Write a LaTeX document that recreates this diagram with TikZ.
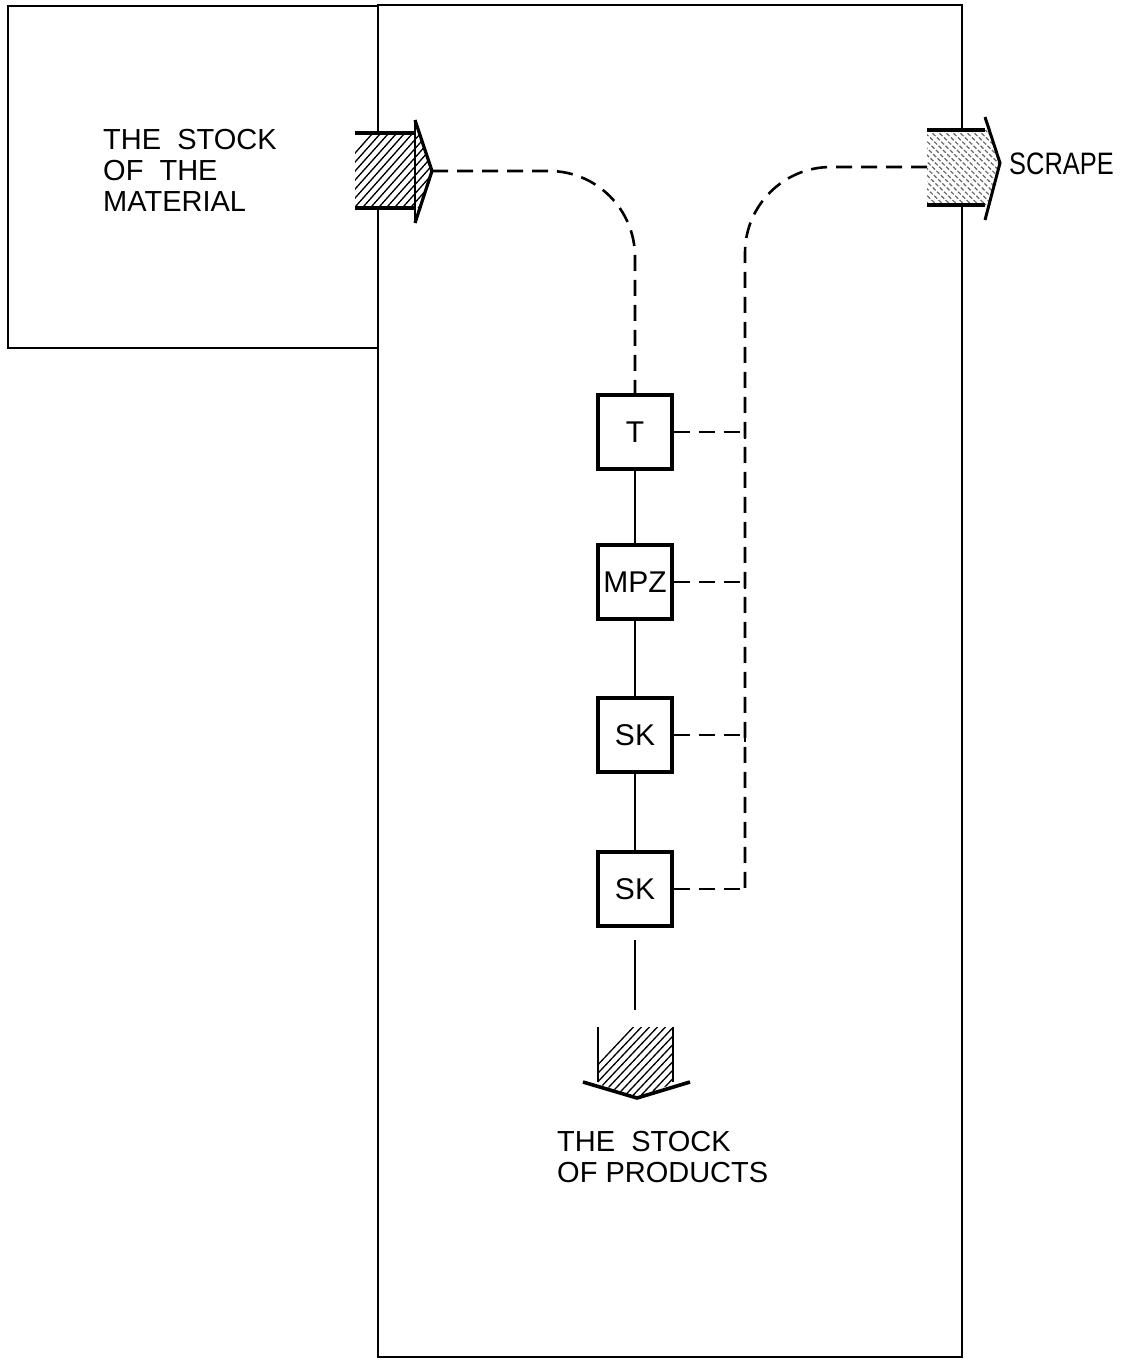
\documentclass[tikz,border=0pt]{standalone}
\usepackage{fontspec}
\setmainfont{Liberation Sans}
\usetikzlibrary{calc}
\begin{document}
\begin{tikzpicture}[x=1pt,y=-1pt,
  frame/.style={line width=2.2pt},
  proc/.style={draw,line width=3.4pt,minimum width=74pt,minimum height=74pt,inner sep=0pt,font=\fontsize{30}{32}\selectfont},
  label/.style={inner sep=0pt,align=left,font=\fontsize{29}{31}\selectfont},
  flow/.style={line width=2.6pt,dash pattern=on 16pt off 9pt},
  link/.style={line width=1.6pt},
  hatch/.style={line width=1.3pt},
  lhatch/.style={line width=1.2pt,black!60,dash pattern=on 4pt off 2pt},
  edge/.style={line width=3.8pt}]
\useasboundingbox (0,0) rectangle (1133,1363);
% frames
\draw[frame] (8,6) rectangle (378,348);
\draw[frame] (378,5) rectangle (962,1357);
% process boxes
\node[proc] (T)   at (635,432) {T};
\node[proc] (M)   at (635,582) {MPZ};
\node[proc] (S1)  at (635,735) {SK};
\node[proc] (S2)  at (635,889) {SK};
% labels
\node[label,anchor=west] (mat) at (103,170) {THE\ \ STOCK\\OF\ \ THE\\MATERIAL};
\node[label,anchor=west] (prod) at (557,1157) {THE\ \ STOCK\\OF PRODUCTS};
\node[inner sep=0pt,anchor=west,font=\fontsize{31}{31}\selectfont] (scr) at (1009,164) {\scalebox{0.82}[1]{SCRAPE}};
% input arrow
\coordinate (inTip) at (432,171);
\fill[white] (355,133) -- (415,133) -- (415,120) -- (432,171) -- (415,223) -- (415,208) -- (355,208) -- cycle;
\begin{scope}
\clip (355,133) -- (419,133) -- (432,171) -- (419,208) -- (355,208) -- cycle;
\foreach \i in {0,...,18} { \draw[hatch] (300+8*\i,215) -- (380+8*\i,125); }
\end{scope}
\draw[edge] (355,133) -- (415,133);
\draw[edge] (355,208) -- (415,208);
\draw[line width=1.4pt] (415,120) -- (415,223);
\draw[line width=3.2pt,line join=miter] (415,120) -- (inTip) -- (415,223);
% scrape arrow
\coordinate (scTail) at (927,167);
\fill[white] (927,130) -- (985,130) -- (985,117) -- (1000,163) -- (985,220) -- (985,205) -- (927,205) -- cycle;
\begin{scope}
\clip (927,130) -- (989,130) -- (1000,163) -- (989,205) -- (927,205) -- cycle;
\foreach \i in {0,...,22} { \draw[lhatch] (840+7*\i,125) -- (930+7*\i,212); }
\end{scope}
\draw[edge] (927,130) -- (985,130);
\draw[edge] (927,205) -- (985,205);
\draw[line width=3pt,line join=miter] (985,117) -- (1000,163) -- (985,220);
% output arrow
\coordinate (outTail) at (635,1010);
\fill[white] (598,1027) -- (673,1027) -- (673,1082) -- (690,1082) -- (637,1098) -- (583,1082) -- (598,1082) -- cycle;
\begin{scope}
\clip (598,1027) -- (673,1027) -- (673,1084) -- (637,1097) -- (598,1084) -- cycle;
\foreach \i in {0,...,20} { \draw[hatch] (560+8*\i,1105) -- (640+8*\i,1020); }
\end{scope}
\draw[link] (598,1027) -- (598,1082);
\draw[link] (673,1027) -- (673,1082);
\draw[line width=3.6pt,line join=miter] (583,1082) -- (637,1098) -- (690,1082);
% material flow
\draw[flow,rounded corners=86pt] (inTip) -- (T.north |- inTip) -- (T.north);
\draw[link] (T.south) -- (M.north);
\draw[link] (M.south) -- (S1.north);
\draw[link] (S1.south) -- (S2.north);
\coordinate (prodTop) at (635,940);
\draw[link] (prodTop) -- (outTail);
% scrap flow
\coordinate (bus) at (745,889);
\draw[flow,rounded corners=86pt] (scTail) -- (bus |- scTail) -- (bus);
\draw[flow] (T.east) -- (T.east -| bus);
\draw[flow] (M.east) -- (M.east -| bus);
\draw[flow] (S1.east) -- (S1.east -| bus);
\draw[flow] (S2.east) -- (bus);
\foreach \n in {T,M,S1} { \draw[line width=1.6pt] ($(\n.east -| bus)+(0,-7)$) -- ($(\n.east -| bus)+(0,7)$); }
\end{tikzpicture}
\end{document}
